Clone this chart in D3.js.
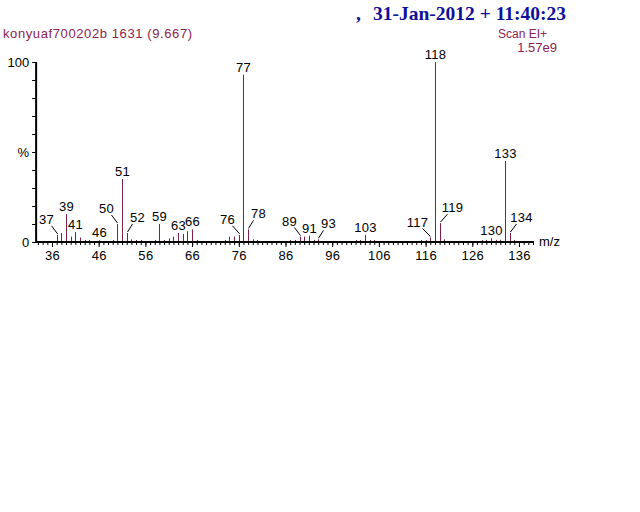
<!DOCTYPE html>
<html>
<head>
<meta charset="utf-8">
<script src="https://cdn.jsdelivr.net/npm/d3@7"></script>
<style>
  body { margin: 0; background: #fff; }
  svg text { font-family: "Liberation Sans", Arial, sans-serif; }
</style>
</head>
<body>
<div id="vis"></div>
<script>
'use strict';

// spectrum data (m/z and relative intensity in %)
var mzValues = [37, 38, 39, 40, 41, 42, 43, 44, 46, 49, 50, 51, 52, 53, 54, 55,
    58, 59, 60, 61, 62, 63, 64, 65, 66, 67, 73, 74, 75, 76, 77, 78, 79, 80,
    87, 88, 89, 90, 91, 92, 93, 101, 102, 103, 104, 105, 115, 116, 117, 118,
    119, 120, 128, 129, 130, 131, 132, 133, 134, 135];
var intensities = [4, 5, 15.5, 3, 5.5, 2.5, 1, 1, 1, 1, 10, 35, 5, 1.5, 1, 1,
    1, 10, 0.8, 2, 3, 5, 4.5, 6, 7, 1, 1, 3, 3, 4, 93, 7, 1.5, 0.8,
    1, 1, 3, 3, 3.5, 1.2, 1.5, 0.8, 1, 4, 1, 0.8, 0.8, 1, 2.5, 100,
    10.5, 1.5, 0.8, 1, 2, 1.2, 1.2, 45, 5, 1];
var labelledMz = [37, 39, 41, 46, 50, 51, 52, 59, 63, 66, 76, 77, 78, 89, 91, 93,
    103, 117, 118, 119, 130, 133, 134];
var xTickLabels = [36, 46, 56, 66, 76, 86, 96, 106, 116, 126, 136];
var yTickLabels = ['0', '%', '100'];

var sampleTitle = 'konyuaf700202b 1631 (9.667)';
var scanText = 'Scan EI+';
var scaleText = '1.57e9';
var dateText = '31-Jan-2012 + 11:40:23';

// label placement for peaks whose label sits off to one side (layout only)
var labelShift = {
    37: [-9, -1], 50: [-9, 0], 52: [8, 0], 76: [-10, 0], 78: [8, 0],
    89: [-9, 0], 93: [8, 0], 117: [-11, 0], 119: [10, 0], 134: [9, 0]
};

var width = 640, height = 512;
var peakColor = '#7f1f4b';
var titleColor = '#8a2350';
var smallFont = '13px';

var svg = d3.select('#vis').append('svg')
    .attr('width', width)
    .attr('height', height);

var x = d3.scaleLinear().domain([36, 136]).range([52, 519]);
var y = d3.scaleLinear().domain([0, 100]).range([242, 62]);
var xMin = 32.6, xMax = 139.2;

// header texts
var dateG = svg.append('g')
    .attr('fill', '#10109a')
    .style('font-weight', 'bold')
    .style('font-size', '19.5px');
dateG.append('text')
    .attr('x', 356).attr('y', 20)
    .style('font-family', '"Liberation Serif", "Times New Roman", serif')
    .text(',');
dateG.append('text')
    .attr('x', 373).attr('y', 20)
    .style('font-family', '"Liberation Serif", "Times New Roman", serif')
    .text(dateText);

svg.append('text')
    .attr('x', 3).attr('y', 38)
    .attr('fill', titleColor)
    .style('font-size', smallFont)
    .style('letter-spacing', '0.6px')
    .text(sampleTitle);

svg.append('text')
    .attr('x', 547).attr('y', 38)
    .attr('text-anchor', 'end')
    .attr('fill', titleColor)
    .style('font-size', '12px')
    .text(scanText);

svg.append('text')
    .attr('x', 557).attr('y', 52)
    .attr('text-anchor', 'end')
    .attr('fill', titleColor)
    .style('font-size', smallFont)
    .text(scaleText);

// peaks
var peaks = mzValues.map(function (m, i) {
    return { mz: m, value: intensities[i] };
});

svg.append('g').attr('class', 'peaks')
    .selectAll('line')
    .data(peaks)
    .enter().append('line')
    .attr('x1', function (d) { return Math.round(x(d.mz)) + 0.5; })
    .attr('x2', function (d) { return Math.round(x(d.mz)) + 0.5; })
    .attr('y1', y(0))
    .attr('y2', function (d) { return Math.min(y(d.value), y(0) - 2); })
    .attr('stroke', peakColor)
    .attr('stroke-width', 1);

// peak labels
var labelG = svg.append('g').attr('class', 'labels')
    .style('font-size', smallFont)
    .style('letter-spacing', '0.3px');
labelledMz.forEach(function (m) {
    var v = intensities[mzValues.indexOf(m)];
    var px = Math.round(x(m)) + 0.5;
    var py = y(v);
    var shift = labelShift[m];
    if (shift) {
        var lx = px + shift[0], ly = py - 9;
        labelG.append('line')
            .attr('x1', px).attr('y1', py - 1)
            .attr('x2', lx + (shift[0] < 0 ? 3 : -3)).attr('y2', ly)
            .attr('stroke', '#000').attr('stroke-width', 1);
        labelG.append('text')
            .attr('x', lx + (shift[0] < 0 ? -2 : 2))
            .attr('y', ly - 2)
            .attr('text-anchor', 'middle')
            .text(m);
    } else {
        labelG.append('text')
            .attr('x', px)
            .attr('y', py - 3)
            .attr('text-anchor', 'middle')
            .text(m);
    }
});

// x axis: minor ticks every unit, labelled ticks every 10
var xAxisG = svg.append('g').attr('transform', 'translate(0,' + y(0) + ')');
xAxisG.append('g')
    .call(d3.axisBottom(x)
        .tickValues(d3.range(33, 140))
        .tickSize(3)
        .tickFormat(''))
    .call(function (g) { g.select('.domain').remove(); });
xAxisG.append('g')
    .call(d3.axisBottom(x)
        .tickValues(xTickLabels)
        .tickSize(5)
        .tickPadding(4)
        .tickFormat(d3.format('d')))
    .call(function (g) {
        g.select('.domain').remove();
        g.selectAll('text')
            .attr('fill', '#000')
            .style('font-size', smallFont)
            .style('letter-spacing', '0.3px')
            .style('font-family', '"Liberation Sans", Arial, sans-serif');
    });
xAxisG.append('line')
    .attr('x1', x(xMin)).attr('x2', x(xMax))
    .attr('y1', 0).attr('y2', 0)
    .attr('stroke', '#000').attr('stroke-width', 2);
svg.append('text')
    .attr('x', x(xMax) + 5).attr('y', y(0) + 4)
    .style('font-size', smallFont)
    .text('m/z');

// y axis: ticks every 10 %, labels at 0, 50, 100
var yAxisG = svg.append('g').attr('transform', 'translate(' + x(xMin) + ',0)');
yAxisG.append('g')
    .call(d3.axisLeft(y)
        .tickValues(d3.range(0, 101, 10))
        .tickSize(4)
        .tickFormat(function (d) {
            if (d === 0) { return yTickLabels[0]; }
            if (d === 50) { return yTickLabels[1]; }
            if (d === 100) { return yTickLabels[2]; }
            return '';
        }))
    .call(function (g) {
        g.select('.domain').remove();
        g.selectAll('text')
            .attr('fill', '#000')
            .style('font-size', smallFont)
            .style('font-family', '"Liberation Sans", Arial, sans-serif');
    });
yAxisG.append('line')
    .attr('x1', 0).attr('x2', 0)
    .attr('y1', y(100)).attr('y2', y(0) + 1)
    .attr('stroke', '#000').attr('stroke-width', 2);
</script>
</body>
</html>
